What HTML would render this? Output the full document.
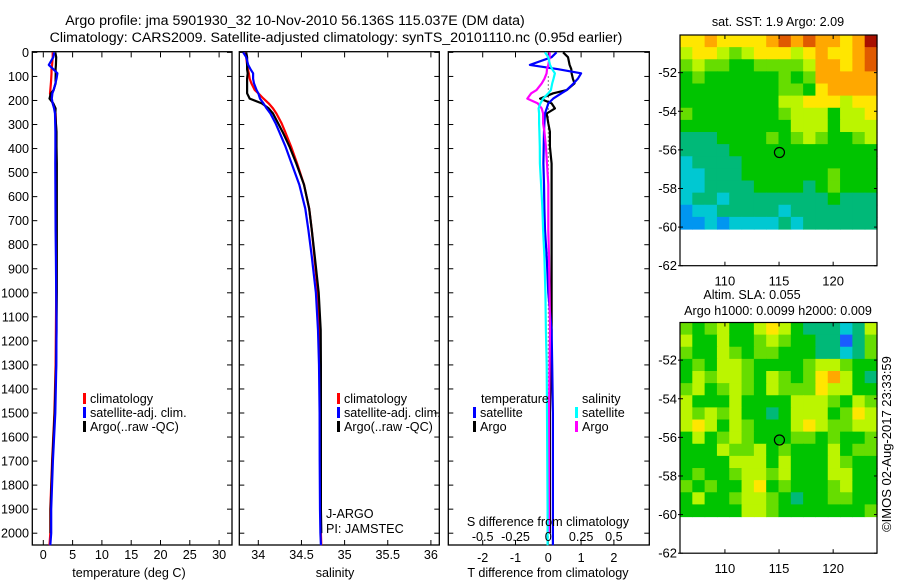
<!DOCTYPE html>
<html><head><meta charset="utf-8"><style>
html,body{margin:0;padding:0;background:#fff}
svg{display:block;font-family:"Liberation Sans",sans-serif}
text{font-size:12.6px;fill:#000}
</style></head><body>
<svg id="chart" width="900" height="580" viewBox="0 0 900 580" xmlns="http://www.w3.org/2000/svg">
<text x="295" y="25" text-anchor="middle" style="font-size:14.2px">Argo profile: jma 5901930_32 10-Nov-2010 56.136S 115.037E (DM data)</text>
<text x="336" y="42" text-anchor="middle" style="font-size:14.2px">Climatology: CARS2009. Satellite-adjusted climatology: synTS_20101110.nc (0.95d earlier)</text>
<g id="g1"></g>
<g id="g2"></g>
<g id="g3"></g>
<g id="m1"></g>
<g id="m2"></g>
<text transform="translate(891,444) rotate(-90)" text-anchor="middle" style="font-size:13px">©IMOS 02-Aug-2017 23:33:59</text>
</svg>
<script>
const depths = [0,20,52,70,87,110,129,157,170,192,212,233,254,295,330,392,462,550,650,739,850,1000,1155,1300,1500,1700,1900,2000,2050];
const climT = [1.6,1.6,1.5,1.4,1.4,1.35,1.3,1.2,1.15,1.3,1.6,1.9,2.1,2.15,2.2,2.2,2.2,2.2,2.2,2.2,2.2,2.2,2.15,2.1,1.9,1.5,1.2,1.2,1.05];
const satTdiff = [0.25,0.1,-0.56,0.3,1.0,0.9,0.77,0.56,0.4,0.15,0.0,-0.05,-0.1,-0.12,-0.13,-0.14,-0.15,-0.13,-0.12,-0.1,-0.05,0,0.1,0.12,0.14,0.14,0.14,0.14,0.14];
const argoTdiff = [0.45,0.6,0.65,0.7,0.71,0.75,0.8,0.56,0.15,-0.25,0.1,0.2,-0.05,0,0.05,0.05,0.1,0.1,0.1,0.1,0.1,0.1,0.1,0.08,0.05,0.05,0.05,0.05,null];
const climS = [33.85,33.86,33.87,33.88,33.89,33.9,33.92,33.96,34.0,34.06,34.12,34.17,34.21,34.27,34.31,34.38,34.45,34.53,34.59,34.62,34.65,34.69,34.71,34.715,34.72,34.72,34.72,34.725,34.73];
const satSdiff = [-0.025,0.0,0.013,0.03,0.05,0.04,0.03,0.02,0.0,-0.04,-0.06,-0.074,-0.07,-0.07,-0.068,-0.065,-0.064,-0.055,-0.045,-0.04,-0.03,-0.022,-0.018,-0.012,-0.01,-0.008,-0.005,-0.005,-0.005];
const argoSdiff = [0.01,0.01,0.0,-0.01,-0.013,-0.03,-0.05,-0.09,-0.13,-0.16,-0.08,-0.05,-0.04,-0.04,-0.03,-0.018,-0.01,0,0,0,0.005,0.01,0.013,0.01,0.005,0.005,0.005,0.005,null];
const depthTicks = [0,100,200,300,400,500,600,700,800,900,1000,1100,1200,1300,1400,1500,1600,1700,1800,1900,2000];
const tempTicks = [0,5,10,15,20,25,30];
const salTicks = [34,34.5,35,35.5,36];
const tdiffTicks = [-2,-1,0,1,2];
const sdiffTicks = [-0.5,-0.25,0,0.25,0.5];
const sstGrid = [
[7,7,8,7,7,7,7,8,9,8,9,8,8,7,8,10],
[6,7,7,6,5,6,7,7,7,6,7,8,7,7,8,9],
[5,6,5,5,4,4,5,5,5,5,6,8,8,7,8,9],
[4,5,4,4,4,4,4,4,5,4,5,8,8,8,8,8],
[4,4,4,4,4,4,4,4,5,5,4,7,8,8,8,8],
[4,4,4,4,4,4,4,4,6,6,7,7,7,6,7,7],
[5,4,4,4,4,4,4,4,5,6,6,6,4,6,6,7],
[4,4,4,4,4,4,4,4,4,6,6,6,4,6,6,6],
[3,3,3,4,4,4,4,5,4,5,6,5,4,4,5,6],
[3,3,3,3,4,4,4,4,4,4,4,4,4,4,4,4],
[2,3,3,3,3,4,4,4,4,4,4,4,4,4,4,4],
[2,2,3,3,3,4,4,4,4,4,4,4,5,4,4,4],
[2,2,3,3,3,3,4,4,4,4,3,4,5,4,4,4],
[2,3,3,2,3,3,3,3,3,3,3,3,4,3,3,3],
[1,2,2,3,3,3,3,3,2,3,3,3,3,3,3,3],
[1,1,2,1,2,2,2,2,3,2,3,3,3,3,3,3]];
const slaGrid = [
[5,4,5,6,4,4,6,7,6,4,3,3,3,2,3,6],
[6,4,4,6,4,4,5,6,5,4,4,3,3,0,3,5],
[5,4,4,6,5,4,5,5,4,4,4,3,3,2,3,5],
[4,5,4,6,6,5,4,4,4,4,5,6,6,5,4,4],
[4,6,5,6,6,5,4,6,5,4,5,7,8,6,4,3],
[5,6,4,5,6,5,4,6,5,5,5,7,6,6,4,4],
[6,4,4,4,6,4,4,4,4,6,6,6,5,4,6,5],
[6,5,6,5,6,4,4,3,4,6,6,6,4,5,7,6],
[6,7,6,4,6,5,4,4,4,6,7,6,5,5,6,6],
[4,6,4,5,6,5,4,4,4,5,5,4,5,4,4,5],
[4,4,4,6,5,5,6,4,5,4,4,4,6,4,5,5],
[4,4,4,4,6,6,6,4,6,4,4,4,6,5,4,4],
[4,5,4,4,5,6,6,5,6,4,4,4,6,6,4,4],
[5,4,5,4,4,6,7,4,5,4,4,4,5,6,4,4],
[4,6,4,4,5,6,6,5,4,3,4,4,5,5,4,4],
[4,4,4,4,4,6,6,5,4,4,4,4,4,4,4,5]];
const lonTicks = [110,115,120];
const latTicks = [-52,-54,-56,-58,-60,-62];
const argoLon = 115.037, argoLat = -56.136;

(function(){
const NS='http://www.w3.org/2000/svg';
function mk(parent,tag,attrs,txt){const e=document.createElementNS(NS,tag);for(const k in attrs)e.setAttribute(k,attrs[k]);if(txt!==undefined)e.textContent=txt;parent.appendChild(e);return e;}
const yTop=52.4, yBot=545, dPer=0.2404;
const yD=d=>yTop+d*dPer;
const P=[
 {g:'g1',l:32.3,r:232,x:v=>43.3+v*5.86},
 {g:'g2',l:239.3,r:439.3,x:v=>258.3+(v-34)*86.3},
 {g:'g3',l:448.3,r:649.3,x:v=>548.3+v*32.8}];
function frame(p,xt,xs,xfmt,ly){
 const g=document.getElementById(p.g);
 const f=mk(g,'rect',{x:p.l,y:yTop-0.7,width:p.r-p.l,height:yBot-yTop+0.7,fill:'none',stroke:'#000','stroke-width':1.3});
 
 
 depthTicks.forEach(d=>{const y=yD(d);
  mk(g,'line',{x1:p.l,x2:p.l+5,y1:y,y2:y,stroke:'#000'});
  mk(g,'line',{x1:p.r,x2:p.r-5,y1:y,y2:y,stroke:'#000'});
  if(p.g==='g1'){const t=mk(g,'text',{x:29,y:y+4.5,'text-anchor':'end'},String(d));
   
   }
 });
 xt.forEach(v=>{const x=xs(v);
  mk(g,'line',{x1:x,x2:x,y1:yTop,y2:yTop+5,stroke:'#000'});
  mk(g,'line',{x1:x,x2:x,y1:yBot,y2:yBot-5,stroke:'#000'});
  const t=mk(g,'text',{x:x,y:ly,'text-anchor':'middle'},xfmt(v));
  
  
 });
 return g;
}
function line(g,xs,vals,color,name,w){
 let pts=[];depths.forEach((d,i)=>{if(vals[i]!==null&&vals[i]!==undefined&&!isNaN(vals[i]))pts.push(xs(vals[i]).toFixed(1)+','+yD(d).toFixed(1));});
 const pl=mk(g,'polyline',{points:pts.join(' '),fill:'none',stroke:color,'stroke-width':w||2.2,'stroke-linejoin':'round'});
 
 
}
function legend(g,x,y,color,label,name){
 mk(g,'rect',{x:x,y:y-10,width:3,height:11,fill:color});
 const t=mk(g,'text',{x:x+7,y:y},label);
 
 
}
const sum=(a,b)=>a.map((v,i)=>b[i]===null?null:v+b[i]);
let g=frame(P[0],tempTicks,P[0].x,v=>String(v),559);
line(g,P[0].x,climT,'#f00','temp-clim-line');
line(g,P[0].x,sum(climT,argoTdiff),'#000','temp-argo-line');
line(g,P[0].x,sum(climT,satTdiff),'#00f','temp-sat-line');
legend(g,83,403,'#f00','climatology','legend-climatology');
legend(g,83,417,'#00f','satellite-adj. clim.','legend-satellite');
legend(g,83,431,'#000','Argo(..raw -QC)','legend-argo');
let t=mk(g,'text',{x:129,y:577,'text-anchor':'middle'},'temperature (deg C)');


g=frame(P[1],salTicks,P[1].x,v=>String(v),559);
line(g,P[1].x,climS,'#f00','sal-clim-line');
line(g,P[1].x,sum(climS,argoSdiff),'#000','sal-argo-line');
line(g,P[1].x,sum(climS,satSdiff),'#00f','sal-sat-line');
legend(g,337,403,'#f00','climatology','legend-climatology');
legend(g,337,417,'#00f','satellite-adj. clim.','legend-satellite');
legend(g,337,431,'#000','Argo(..raw -QC)','legend-argo');
t=mk(g,'text',{x:326,y:518},'J-ARGO');
t=mk(g,'text',{x:326,y:533},'PI: JAMSTEC');
t=mk(g,'text',{x:335,y:577,'text-anchor':'middle'},'salinity');


g=frame(P[2],tdiffTicks,P[2].x,v=>String(v),562);
const sx=v=>548.3+v*131.2;
mk(g,'line',{x1:548.3,x2:548.3,y1:yD(100),y2:yBot,stroke:'#000','stroke-dasharray':'1,3'});
line(g,P[2].x,argoTdiff,'#000','tdiff-argo-line');
line(g,P[2].x,satTdiff,'#00f','tdiff-sat-line');
line(g,sx,argoSdiff,'#f0f','sdiff-argo-line');
line(g,sx,satSdiff,'#0ff','sdiff-sat-line');
t=mk(g,'text',{x:481,y:403},'temperature');
t=mk(g,'text',{x:582,y:403},'salinity');
legend(g,473,417,'#00f','satellite','legend-t-satellite');
legend(g,473,431,'#000','Argo','legend-t-argo');
legend(g,575,417,'#0ff','satellite','legend-s-satellite');
legend(g,575,431,'#f0f','Argo','legend-s-argo');
t=mk(g,'text',{x:548,y:526,'text-anchor':'middle'},'S difference from climatology');
sdiffTicks.forEach(v=>{const tt=mk(g,'text',{x:sx(v),y:541,'text-anchor':'middle'},String(v));
 
 });
t=mk(g,'text',{x:548,y:577,'text-anchor':'middle'},'T difference from climatology');
const pal=['#1a5cff','#0096f0','#00c8d2','#00b978','#00c400','#66dd00','#bbf500','#ffe600','#ffa800','#e05a00','#a81000'];
function map(id,grid,mtop,titles,titleY){
 const g=document.getElementById(id);
 const L=680,R=877,B=mtop+230.7;
 const lonMin=105.85,lonMax=124.05,latMax=-50.05,latMin=-62;
 const X=lo=>L+(lo-lonMin)/(lonMax-lonMin)*(R-L);
 const Y=la=>mtop+(latMax-la)/(latMax-latMin)*(B-mtop);
 const rows=grid.length,cols=grid[0].length,dataBot=-60.1;
 grid.forEach((row,r)=>row.forEach((v,c)=>{
  const lo0=lonMin+c*(lonMax-lonMin)/cols,lo1=lonMin+(c+1)*(lonMax-lonMin)/cols;
  const la0=latMax-r*(latMax-dataBot)/rows,la1=latMax-(r+1)*(latMax-dataBot)/rows;
  const cell=mk(g,'rect',{x:X(lo0),y:Y(la0),width:X(lo1)-X(lo0)+0.6,height:Y(la1)-Y(la0)+0.6,fill:pal[v]});
  
  
 }));
 const f=mk(g,'rect',{x:L,y:mtop,width:R-L,height:B-mtop,fill:'none',stroke:'#000','stroke-width':1.2});
 
 
 lonTicks.forEach(lo=>{const x=X(lo);
  mk(g,'line',{x1:x,x2:x,y1:B,y2:B-4,stroke:'#000'});
  mk(g,'line',{x1:x,x2:x,y1:mtop,y2:mtop+4,stroke:'#000'});
  const tt=mk(g,'text',{x:x,y:B+20,'text-anchor':'middle','style':'font-size:13px'},String(lo));
  
  });
 latTicks.forEach(la=>{const y=Y(la);
  mk(g,'line',{x1:L-2,x2:L+3,y1:y,y2:y,stroke:'#000'});
  mk(g,'line',{x1:R,x2:R-3,y1:y,y2:y,stroke:'#000'});
  const tt=mk(g,'text',{x:L-3,y:y+4.5,'text-anchor':'end','style':'font-size:13px'},String(la));
  
  });
 const c=mk(g,'ellipse',{cx:X(argoLon),cy:Y(argoLat),rx:5,ry:5,fill:'none',stroke:'#000','stroke-width':1.2});
 
 
 titles.forEach((s,i)=>{const tt=mk(g,'text',{x:titles.length>1&&i===0?752:778,y:titleY[i],'text-anchor':'middle'},s);
  
  });
}
map('m1',sstGrid,35,['sat. SST: 1.9 Argo: 2.09'],[26]);
map('m2',slaGrid,322.5,['Altim. SLA: 0.055','Argo h1000: 0.0099 h2000: 0.009'],[299,315]);
})();
</script>
</body></html>
